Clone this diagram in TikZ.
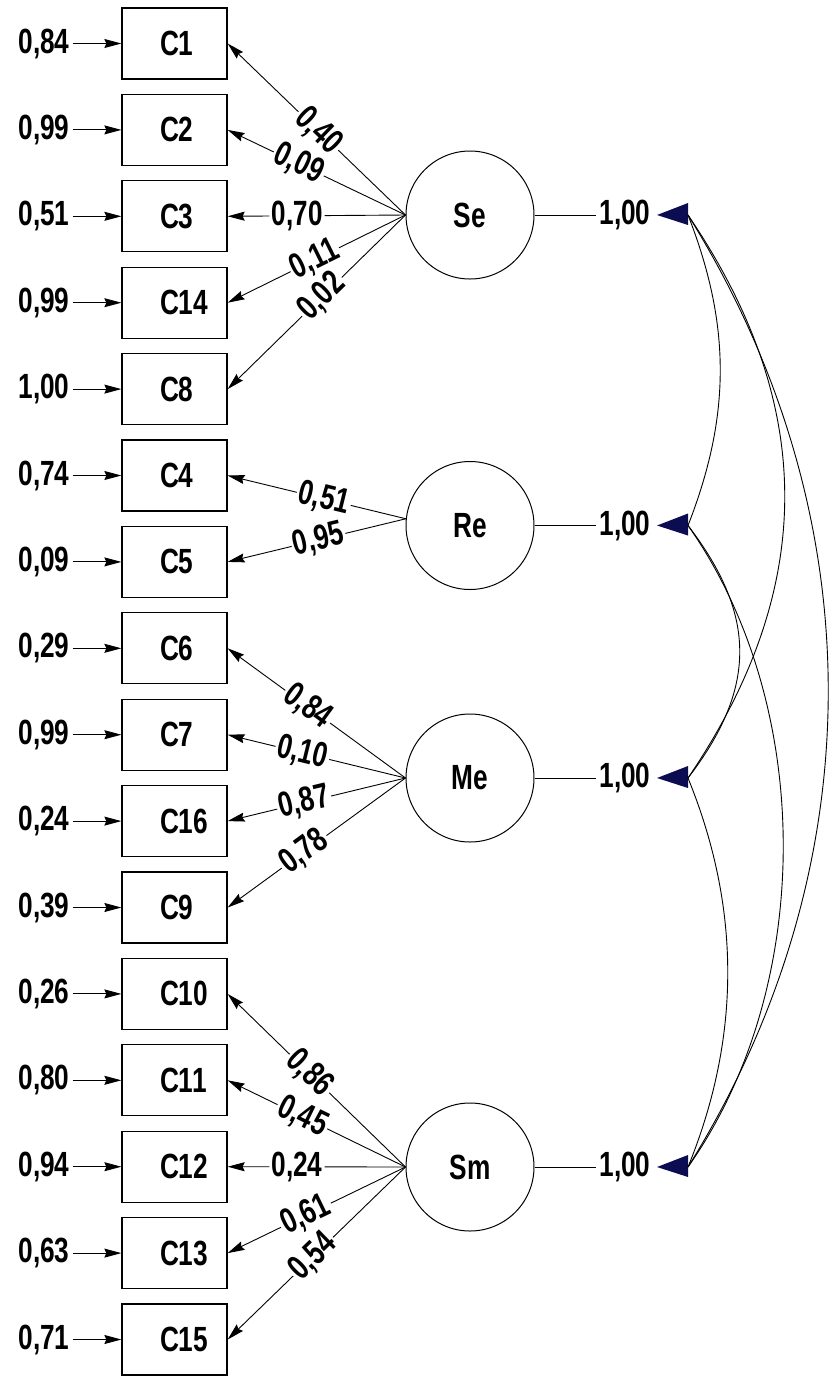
\documentclass[tikz,border=0pt]{standalone}
\usepackage{fontspec}
\setmainfont{Liberation Sans}[FakeStretch=0.75,UprightFont=*-Bold,BoldFont=*-Bold]
\usetikzlibrary{arrows.meta,calc}
\definecolor{navy}{RGB}{12,12,82}
\begin{document}
\begin{tikzpicture}[x=1pt,y=-1pt,
  every node/.style={font=\fontsize{35}{40}\selectfont},
  ind/.style={draw, line width=1.3pt, minimum width=105pt, minimum height=71pt, inner sep=0pt},
  lat/.style={draw, circle, line width=1pt, minimum size=128pt, inner sep=0pt},
  errlab/.style={inner sep=3pt},
  lab/.style={fill=white, inner sep=2pt, sloped},
  arr/.style={line width=0.9pt, -{Stealth[length=17pt,width=9pt,inset=2pt]}},
  cov/.style={line width=0.9pt},
  vline/.style={line width=1pt}
]
\useasboundingbox (0,0) rectangle (829,1377);

% indicator boxes
\node[ind] (c1)  at (174.5,43.5)   {\makebox[29pt][l]{C1}};
\node[ind] (c2)  at (174.5,129.9)  {\makebox[29pt][l]{C2}};
\node[ind] (c3)  at (174.5,216.3)  {\makebox[29pt][l]{C3}};
\node[ind] (c14) at (174.5,302.7)  {\makebox[29pt][l]{C14}};
\node[ind] (c8)  at (174.5,389.1)  {\makebox[29pt][l]{C8}};
\node[ind] (c4)  at (174.5,475.5)  {\makebox[29pt][l]{C4}};
\node[ind] (c5)  at (174.5,561.9)  {\makebox[29pt][l]{C5}};
\node[ind] (c6)  at (174.5,648.3)  {\makebox[29pt][l]{C6}};
\node[ind] (c7)  at (174.5,734.7)  {\makebox[29pt][l]{C7}};
\node[ind] (c16) at (174.5,821.1)  {\makebox[29pt][l]{C16}};
\node[ind] (c9)  at (174.5,907.5)  {\makebox[29pt][l]{C9}};
\node[ind] (c10) at (174.5,993.9)  {\makebox[29pt][l]{C10}};
\node[ind] (c11) at (174.5,1080.3) {\makebox[29pt][l]{C11}};
\node[ind] (c12) at (174.5,1166.7) {\makebox[29pt][l]{C12}};
\node[ind] (c13) at (174.5,1253.1) {\makebox[29pt][l]{C13}};
\node[ind] (c15) at (174.5,1339.5) {\makebox[29pt][l]{C15}};

% error terms
\node[errlab] (e1)  at (44,43.5)   {0,84};
\node[errlab] (e2)  at (44,129.9)  {0,99};
\node[errlab] (e3)  at (44,216.3)  {0,51};
\node[errlab] (e14) at (44,302.7)  {0,99};
\node[errlab] (e8)  at (44,389.1)  {1,00};
\node[errlab] (e4)  at (44,475.5)  {0,74};
\node[errlab] (e5)  at (44,561.9)  {0,09};
\node[errlab] (e6)  at (44,648.3)  {0,29};
\node[errlab] (e7)  at (44,734.7)  {0,99};
\node[errlab] (e16) at (44,821.1)  {0,24};
\node[errlab] (e9)  at (44,907.5)  {0,39};
\node[errlab] (e10) at (44,993.9)  {0,26};
\node[errlab] (e11) at (44,1080.3) {0,80};
\node[errlab] (e12) at (44,1166.7) {0,94};
\node[errlab] (e13) at (44,1253.1) {0,63};
\node[errlab] (e15) at (44,1339.5) {0,71};
\foreach \n in {1,2,3,14,8,4,5,6,7,16,9,10,11,12,13,15}
  \draw[arr] (e\n) -- (c\n);

% latent factors
\node[lat] (se) at (470,215)   {Se};
\node[lat] (re) at (470,525.5) {Re};
\node[lat] (me) at (470,778)   {Me};
\node[lat] (sm) at (470,1167)  {Sm};

% variances
\node (vse) at (625,215)   {1,00};
\node (vre) at (625,525.5) {1,00};
\node (vme) at (625,778)   {1,00};
\node (vsm) at (625,1167)  {1,00};
\draw[vline] (se) -- (vse);
\draw[vline] (re) -- (vre);
\draw[vline] (me) -- (vme);
\draw[vline] (sm) -- (vsm);

\coordinate (tse) at (688,215);
\coordinate (tre) at (688,525.5);
\coordinate (tme) at (688,778);
\coordinate (tsm) at (688,1167);
\foreach \t in {tse,tre,tme,tsm}
  \fill[navy] ($(\t)+(0,-12)$) -- ($(\t)+(0,10)$) -- ($(\t)+(-31,0)$) -- cycle;

% loadings
\draw[arr] (se.west) -- node[lab,pos=0.49]{0,40} (c1.east);
\draw[arr] (se.west) -- node[lab,pos=0.60]{0,09} (c2.east);
\draw[arr] (se.west) -- node[lab,pos=0.61]{0,70} (c3.east);
\draw[arr] (se.west) -- node[lab,pos=0.51]{0,11} (c14.east);
\draw[arr] (se.west) -- node[lab,pos=0.47]{0,02} (c8.east);

\draw[arr] (re.174) -- node[lab,pos=0.46]{0,51} (c4.east);
\draw[arr] (re.174) -- node[lab,pos=0.49]{0,95} (c5.east);

\draw[arr] (me.west) -- node[lab,pos=0.55]{0,84} (c6.east);
\draw[arr] (me.west) -- node[lab,pos=0.58]{0,10} (c7.east);
\draw[arr] (me.west) -- node[lab,pos=0.57]{0,78} (c9.east);
\draw[arr] (me.west) -- node[lab,pos=0.57]{0,87} (c16.east);

\draw[arr] (sm.west) -- node[lab,pos=0.54]{0,86} (c10.east);
\draw[arr] (sm.west) -- node[lab,pos=0.58]{0,45} (c11.east);
\draw[arr] (sm.west) -- node[lab,pos=0.61]{0,24} (c12.east);
\draw[arr] (sm.west) -- node[lab,pos=0.56]{0,61} (c13.east);
\draw[arr] (sm.west) -- node[lab,pos=0.52]{0,54} (c15.east);

% covariances
\draw[cov] (tse) .. controls ($(tse)+(43,110)$) and ($(tre)+(43,-110)$) .. (tre);
\draw[cov] (tse) .. controls ($(tse)+(129,190)$) and ($(tme)+(129,-190)$) .. (tme);
\draw[cov] (tse) .. controls ($(tse)+(187,300)$) and ($(tsm)+(187,-300)$) .. (tsm);
\draw[cov] (tre) .. controls ($(tre)+(69,90)$) and ($(tme)+(69,-90)$) .. (tme);
\draw[cov] (tre) .. controls ($(tre)+(127,180)$) and ($(tsm)+(127,-180)$) .. (tsm);
\draw[cov] (tme) .. controls ($(tme)+(53,130)$) and ($(tsm)+(53,-130)$) .. (tsm);
\end{tikzpicture}
\end{document}
